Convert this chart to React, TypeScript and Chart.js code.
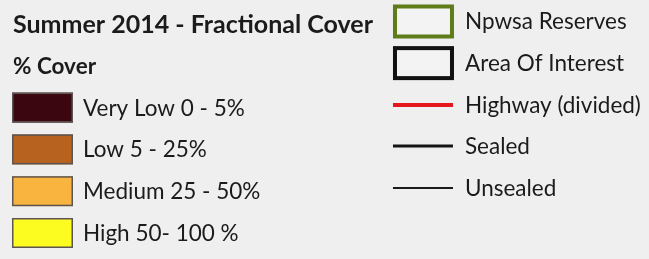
import { useEffect, useRef } from "react";
import { Chart, registerables } from "chart.js";

Chart.register(...registerables);

const coverTitle = "Summer 2014 - Fractional Cover";
const coverSubtitle = "% Cover";
const coverClasses = ["Very Low 0 - 5%", "Low 5 - 25%", "Medium 25 - 50%", "High 50- 100 %"];
const coverColors = ["#3c0610", "#b8621f", "#f8b43f", "#fdfc21"];

const overlayLabels = ["Npwsa Reserves", "Area Of Interest", "Highway (divided)", "Sealed", "Unsealed"];
const overlayKinds = ["box", "box", "line", "line", "line"];
const overlayColors = ["#5e7c1a", "#111111", "#e5171c", "#141414", "#1a1a1a"];
const overlayWidths = [4, 4, 4, 3, 2];

const leftRowIndex = [coverTitle, coverSubtitle, ...coverClasses].map((_, i) => i);
const rightRowIndex = overlayLabels.map((_, i) => i);

const FONT = "Lato, 'Open Sans', sans-serif";
const TEXT_COLOR = "#1b1b1b";

const legendPainter = {
  id: "legendPainter",
  beforeDraw(chart: any) {
    const ctx = chart.ctx;
    ctx.save();
    ctx.fillStyle = "#efefef";
    ctx.fillRect(0, 0, chart.width, chart.height);
    ctx.restore();
  },
  afterDatasetsDraw(chart: any) {
    const ctx = chart.ctx as CanvasRenderingContext2D;
    ctx.save();
    ctx.textBaseline = "alphabetic";
    ctx.textAlign = "left";
    ctx.fillStyle = TEXT_COLOR;

    const left = chart.getDatasetMeta(0).data;
    left.forEach((el: any, i: number) => {
      const { x, y } = el;
      if (i === 0) {
        ctx.font = `bold 25px ${FONT}`;
        ctx.fillStyle = TEXT_COLOR;
        ctx.fillText(coverTitle, x + 1, y + 9);
      } else if (i === 1) {
        ctx.font = `bold 22.5px ${FONT}`;
        ctx.fillStyle = TEXT_COLOR;
        ctx.fillText(coverSubtitle, x + 1, y + 8.5);
      } else {
        const k = i - 2;
        ctx.fillStyle = coverColors[k];
        ctx.fillRect(x, y - 15, 61, 30);
        ctx.strokeStyle = "#5c5552";
        ctx.lineWidth = 1.5;
        ctx.strokeRect(x + 0.75, y - 14.25, 59.5, 28.5);
        ctx.font = `22.5px ${FONT}`;
        ctx.fillStyle = TEXT_COLOR;
        ctx.fillText(coverClasses[k], x + 71, y + 8);
      }
    });

    const right = chart.getDatasetMeta(1).data;
    right.forEach((el: any, i: number) => {
      const { x, y } = el;
      ctx.strokeStyle = overlayColors[i];
      ctx.lineWidth = overlayWidths[i];
      if (overlayKinds[i] === "box") {
        ctx.fillStyle = "#f3f3f3";
        ctx.fillRect(x + 2, y - 15, 57, 30);
        ctx.strokeRect(x + 2, y - 15, 57, 30);
      } else {
        const ly = Math.round(y);
        ctx.beginPath();
        ctx.moveTo(x, ly);
        ctx.lineTo(x + 60, ly);
        ctx.stroke();
      }
      ctx.font = `22.5px ${FONT}`;
      ctx.fillStyle = TEXT_COLOR;
      ctx.fillText(overlayLabels[i], x + 72, y + 8);
    });
    ctx.restore();
  },
};

export default function App() {
  const ref = useRef<HTMLCanvasElement | null>(null);
  useEffect(() => {
    if (!ref.current) return;
    const chart = new Chart(ref.current, {
      type: "scatter",
      data: {
        datasets: [
          {
            label: coverSubtitle,
            data: leftRowIndex.map((r) => ({ x: 0, y: r })),
            yAxisID: "y",
            pointRadius: 0,
            pointHitRadius: 0,
          },
          {
            label: "Overlays",
            data: rightRowIndex.map((r) => ({ x: 1, y: r })),
            yAxisID: "y2",
            pointRadius: 0,
            pointHitRadius: 0,
          },
        ],
      },
      options: {
        animation: false,
        responsive: false,
        layout: { padding: 0 },
        plugins: { legend: { display: false }, tooltip: { enabled: false } },
        scales: {
          x: { type: "linear", display: false, min: -0.0315, max: 1.672 },
          y: { type: "linear", display: false, reverse: true, min: -0.574, max: 5.622 },
          y2: { type: "linear", display: false, reverse: true, min: -0.5165, max: 5.706 },
        },
      },
      plugins: [legendPainter],
    });
    return () => chart.destroy();
  }, []);
  return (
    <div style={{ position: "fixed", left: 0, top: 0, width: 649, height: 259 }}>
      <canvas ref={ref} width={649} height={259} style={{ display: "block" }} />
    </div>
  );
}
